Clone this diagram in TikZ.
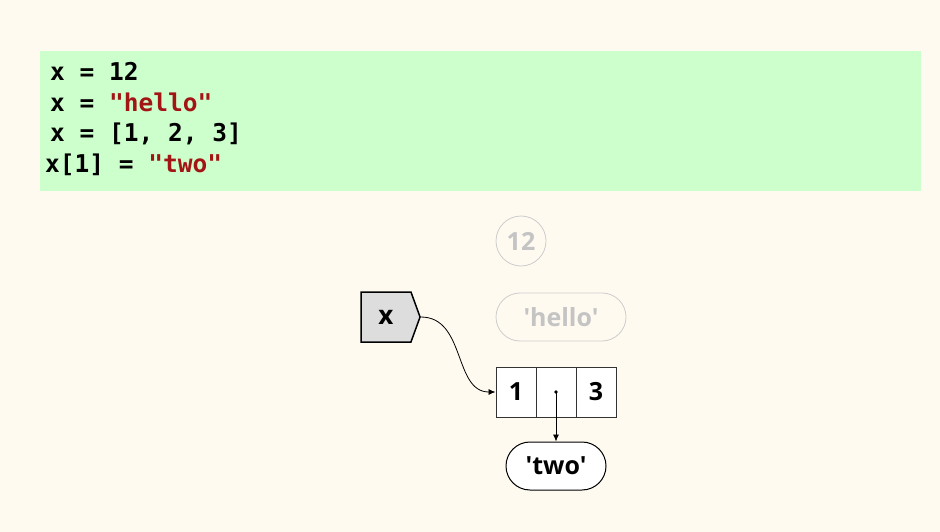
\documentclass[tikz,border=0pt]{standalone}
\usepackage{fontspec}
\setmonofont{DejaVu Sans Mono}
\newfontfamily\osans{Open Sans}
\usetikzlibrary{shapes.symbols,shapes.misc,arrows.meta}
\definecolor{bg}{HTML}{FFFAF0}
\definecolor{codebg}{HTML}{CCFFCC}
\definecolor{strred}{HTML}{A31515}
\definecolor{ghostline}{HTML}{CCCCCC}
\definecolor{ghosttext}{HTML}{C4C4C4}
\definecolor{ptrfill}{HTML}{DDDDDD}
\tikzset{
  codeline/.style={anchor=base west, inner sep=0pt, font=\ttfamily\bfseries\fontsize{24.5}{28}\selectfont},
  ghost/.style={draw=ghostline, line width=0.8pt, text=ghosttext, font=\osans\bfseries\fontsize{25}{28}\selectfont, fill=bg},
  cell/.style={draw=black!80, line width=1pt, fill=white, minimum width=40pt, minimum height=50pt, inner sep=0pt, font=\osans\bfseries\fontsize{25}{28}\selectfont},
  valbox/.style={rounded rectangle, draw=black, line width=1pt, fill=white, minimum width=100pt, minimum height=48pt, inner sep=0pt, font=\osans\bfseries\fontsize{25}{28}\selectfont},
  ptr/.style={signal, signal to=east, signal pointer angle=140, draw=black, line width=1.5pt, fill=ptrfill, minimum width=59pt, minimum height=50pt, inner sep=0pt, font=\osans\bfseries\fontsize{26}{28}\selectfont},
  link/.style={draw=black, line width=0.8pt, -{Latex[length=7pt,width=6pt]}}
}
\begin{document}
\begin{tikzpicture}[x=1pt,y=-1pt]
\useasboundingbox (0,0) rectangle (940,532);
\fill[bg] (0,0) rectangle (940,532);
\fill[codebg] (40,51) rectangle (921,191);
\node[codeline] (l1) at (50,80.5) {x = 12};
\node[codeline] (l2) at (50,111.5) {x = \textcolor{strred}{"hello"}};
\node[codeline] (l3) at (50,142) {x = [1, 2, 3]};
\node[codeline] (l4) at (45,172) {x[1] = \textcolor{strred}{"two"}};

\node[ghost, circle, minimum size=50pt, inner sep=0pt] (v12) at (521,241) {12};
\node[ghost, rounded rectangle, minimum width=130pt, minimum height=48pt, inner sep=0pt] (vhello) at (561,317) {'hello'};

\node[ptr] (x) at (386,317) {x};

\node[cell] (c1) at (516,392) {1};
\node[cell] (c2) at (556,392) {};
\node[cell] (c3) at (596,392) {3};
\fill (c2.center) circle (1.8pt);
\coordinate (d2) at (c2.center);

\node[valbox] (two) at (556,466) {'two'};

\draw[link] (x.east) .. controls +(45,0) and +(-42,0) .. (c1.west);
\draw[link] (d2) -- (two.north);
\end{tikzpicture}
\end{document}
